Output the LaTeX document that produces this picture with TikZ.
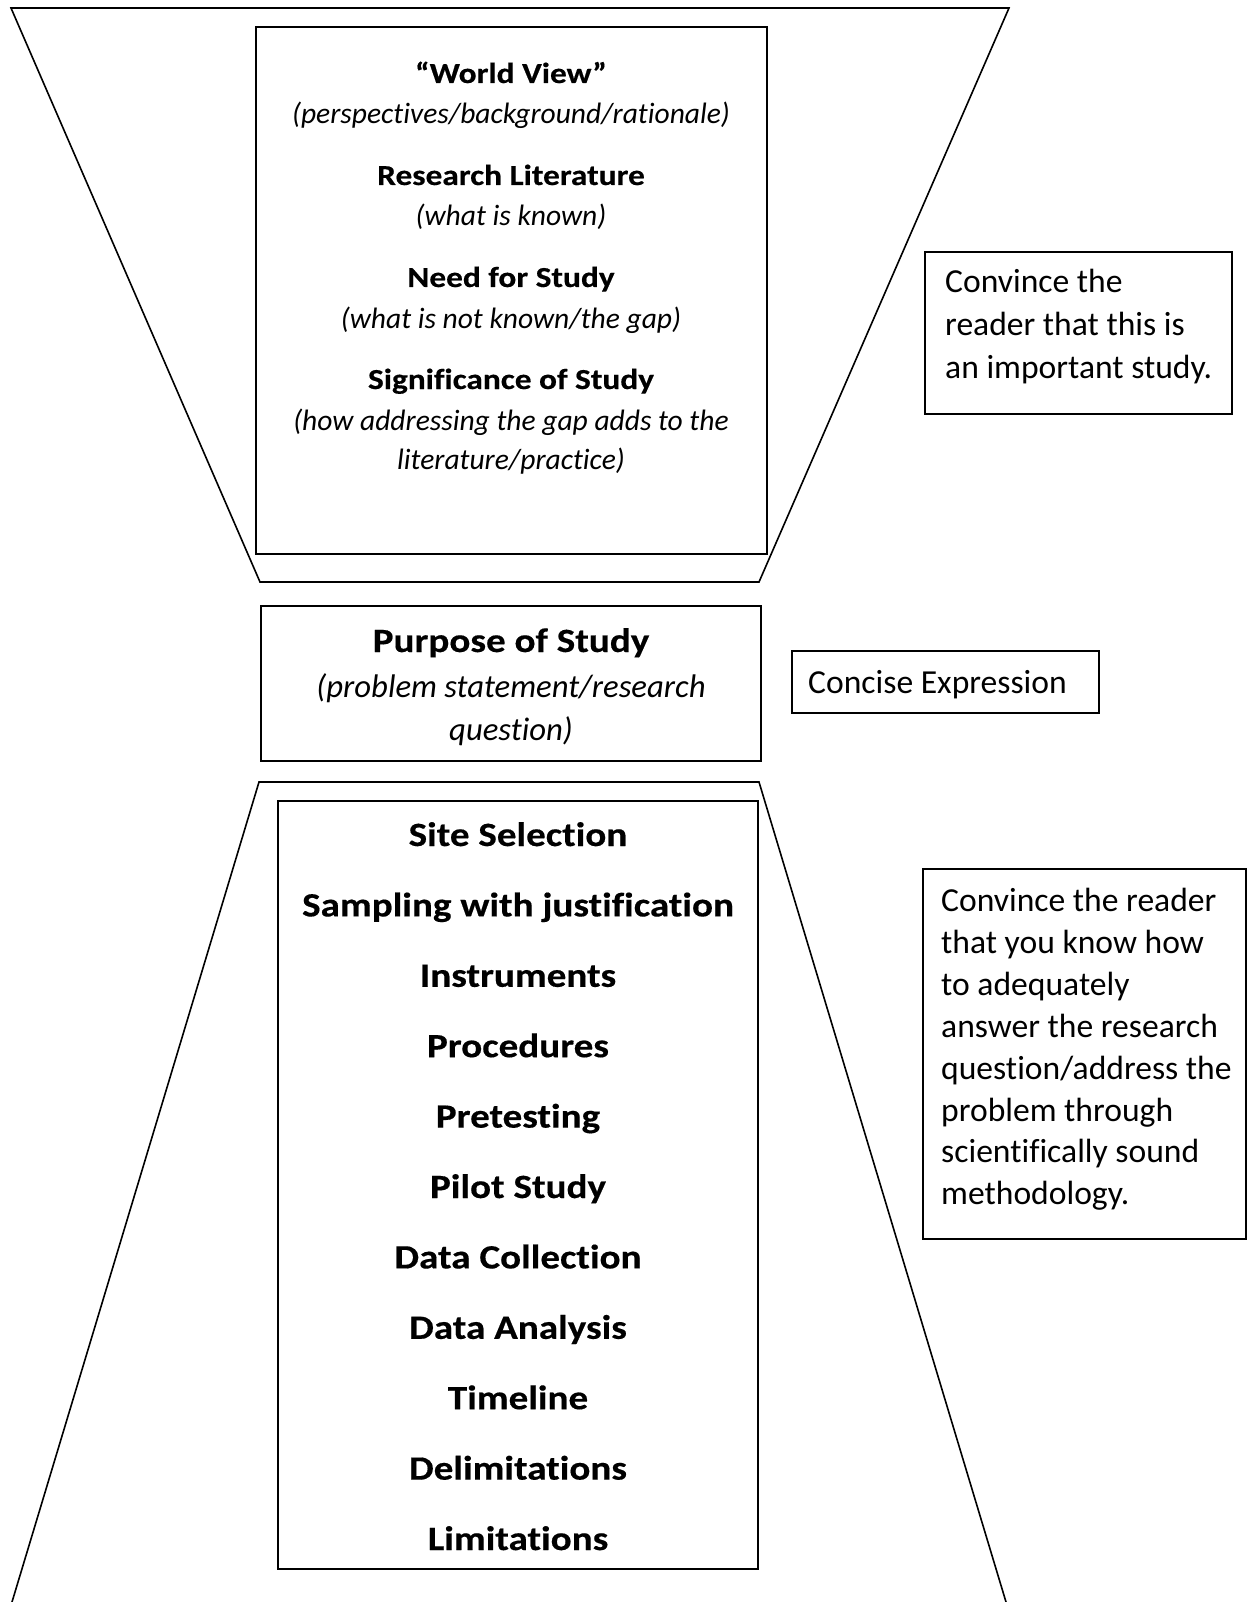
\documentclass[tikz,border=0pt]{standalone}
\usepackage{fontspec}
\setmainfont{Carlito}[Ligatures=CommonOff, BoldFeatures={FakeStretch=1.15, FakeBold=0.4}]
\begin{document}
\begin{tikzpicture}[x=1pt,y=-1pt,
  frame/.style={draw, line width=1.6pt, line join=miter},
  box/.style={draw, line width=2pt},
  ttl/.style={font=\fontsize{29}{35}\selectfont\bfseries, anchor=base, inner sep=0pt},
  sub/.style={font=\fontsize{29.5}{35}\selectfont\itshape, anchor=base, inner sep=0pt},
  bigttl/.style={font=\fontsize{34}{40}\selectfont\bfseries, anchor=base, inner sep=0pt},
  bigsub/.style={font=\fontsize{32.7}{40}\selectfont\itshape, anchor=base, inner sep=0pt},
  note/.style={font=\fontsize{33.6}{40}\selectfont, anchor=base west, inner sep=0pt}]
\useasboundingbox[fill=white] (0,0) rectangle (1249,1602);

% funnels
\draw[frame] (11,8) -- (1009,8) -- (759,582) -- (260,582) -- cycle;
\draw[frame] (12,1602) -- (259,782) -- (759,782) -- (1006,1602);

% boxes
\draw[box] (256,27) rectangle (767,554);
\draw[box] (261,606) rectangle (761,761);
\draw[box] (278,801) rectangle (758,1569);
\draw[box] (925,252) rectangle (1232,414);
\draw[box] (792,651) rectangle (1099,713);
\draw[box] (923,869) rectangle (1246,1239);

% top box text
\node[ttl] (wv) at (511,83) {“World View”};
\node[sub] (wvs) at (511,124) {(perspectives/background/rationale)};
\node[ttl] (rl) at (511,185) {Research Literature};
\node[sub] (rls) at (511,226) {(what is known)};
\node[ttl] (nfs) at (511,287) {Need for Study};
\node[sub] (nfss) at (511,328) {(what is not known/the gap)};
\node[ttl] (sos) at (511,389) {Significance of Study};
\node[sub] (soss1) at (511,430) {(how addressing the gap adds to the};
\node[sub] (soss2) at (511,469) {literature/practice)};

% purpose
\node[bigttl] (pos) at (511,652) {Purpose of Study};
\node[bigsub] (poss1) at (511,697) {(problem statement/research};
\node[bigsub] (poss2) at (511,740) {question)};

% lower list
\foreach \t [count=\k from 0] in {Site Selection, Sampling with justification, Instruments, Procedures, Pretesting, Pilot Study, Data Collection, Data Analysis, Timeline, Delimitations, Limitations}
  \node[bigttl] (item\k) at (518,846+70.4*\k) {\t};

% notes
\node[note] (n1a) at (945,293) {Convince the};
\node[note] (n1b) at (945,335) {reader that this is};
\node[note] (n1c) at (945,378) {an important study.};
\node[note] (ce) at (808,693) {Concise Expression};
\foreach \t [count=\k from 0] in {Convince the reader, that you know how, to adequately, answer the research, question/address the, problem through, scientifically sound, methodology.}
  \node[note] (n2\k) at (941,911.5+41.9*\k) {\t};
\end{tikzpicture}
\end{document}
